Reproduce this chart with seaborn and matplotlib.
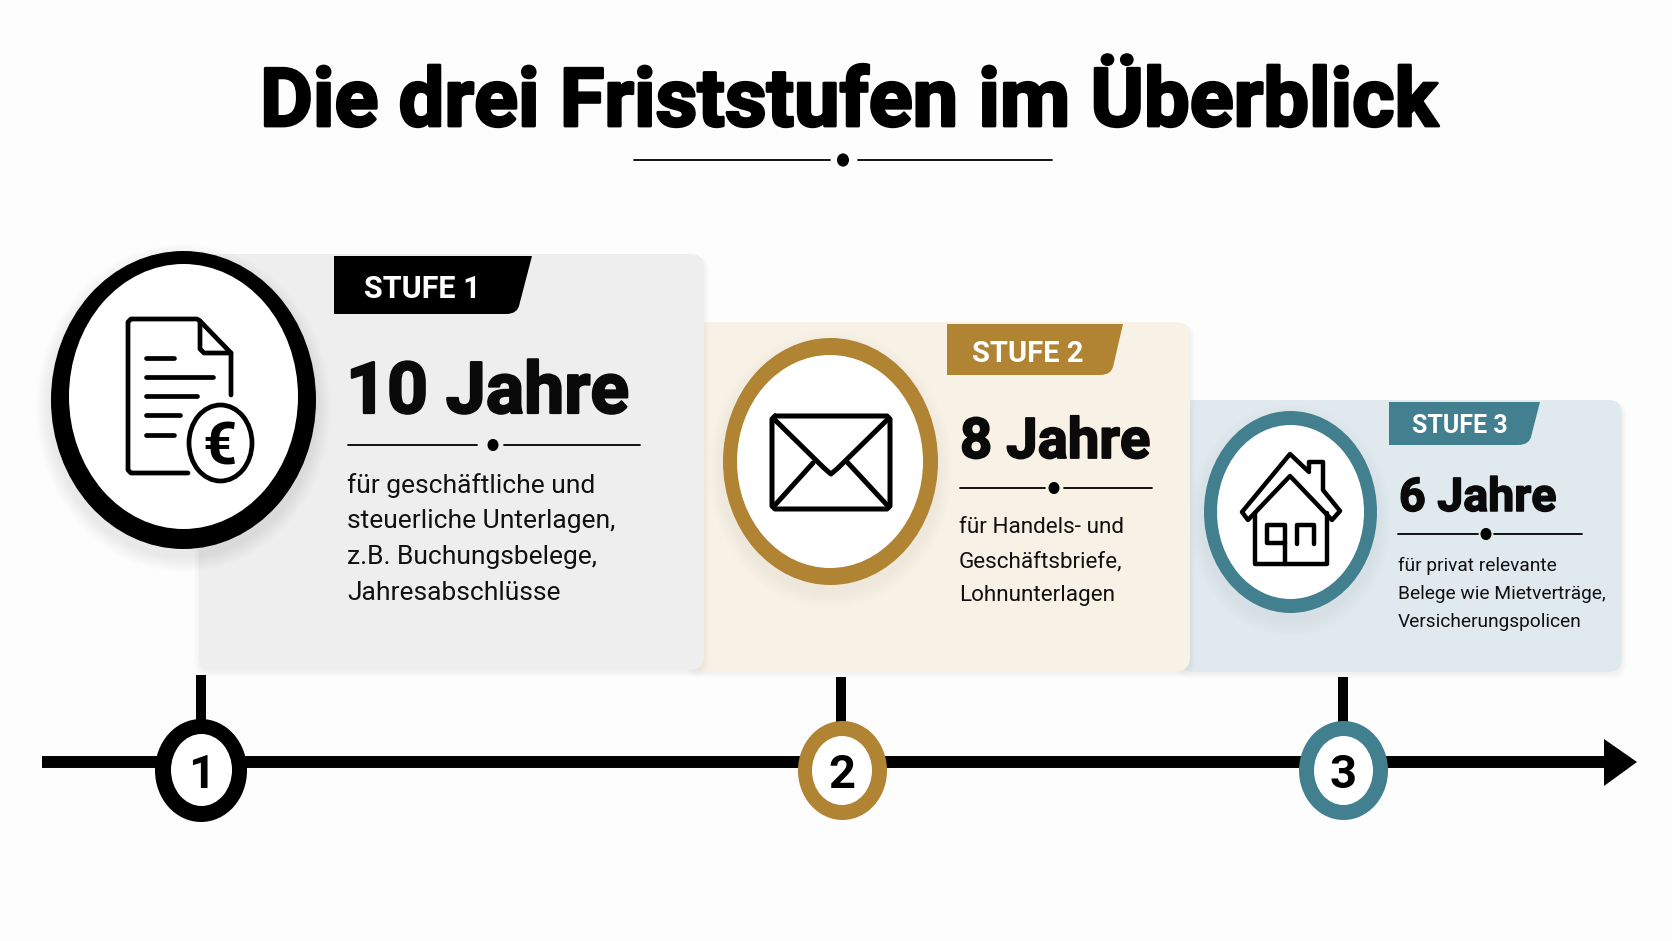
import matplotlib
matplotlib.use('Agg')
import matplotlib.pyplot as plt
import matplotlib.patheffects as pe
import pandas as pd
import seaborn as sns
from matplotlib.patches import Ellipse, FancyBboxPatch, Polygon, PathPatch
from matplotlib.path import Path

# Data
title = 'Die drei Friststufen im Überblick'
stufen = ['STUFE 1', 'STUFE 2', 'STUFE 3']
jahre = ['10 Jahre', '8 Jahre', '6 Jahre']
nummern = ['1', '2', '3']
texte = [
    ['für geschäftliche und', 'steuerliche Unterlagen,', 'z.B. Buchungsbelege,', 'Jahresabschlüsse'],
    ['für Handels- und', 'Geschäftsbriefe,', 'Lohnunterlagen'],
    ['für privat relevante', 'Belege wie Mietverträge,', 'Versicherungspolicen'],
]

# Colours
akzent = ['#000000', '#B08433', '#43808F']
flaeche = ['#EEEEEE', '#F8F1E5', '#E0EAEE']
BG = '#FDFDFD'

# Layout, all in pixels of the reference
cards = [(199, 254, 505, 416), (690, 322, 500, 349), (1180, 400, 442, 272)]
rings = [(183.5, 400, 265, 298, 183.5, 396.5, 229, 265),
         (830.5, 461.5, 215, 247, 830, 461.5, 186, 213),
         (1290.5, 512, 173, 202, 1290.5, 512, 147, 174)]
badges = [(334, 256, 532, 518, 314), (947, 324, 1123, 1112, 375), (1389, 402, 1540, 1530, 445)]
badge_text = [(422.5, 298, 22), (1028, 362, 21), (1460, 433, 18)]
big_text = [(346, 413, 51.5, 1.6), (960, 458, 40.5, 1.3), (1399, 511, 33.5, 1.1)]
rules = [(445, 348, 477, 493, 504, 640), (488, 960, 1045, 1054, 1064, 1152), (534, 1398, 1478, 1486, 1494, 1582)]
body = [(347, [493, 528, 564, 600], 19), (959, [533, 567, 601], 16.2), (1398, [571, 599, 627], 13.8)]
stem_x = [200.5, 841, 1342.5]
stem_top = [675, 677, 677]
nodes = [(201, 770.5, 92, 103, 201.5, 770, 61, 72),
         (842.5, 770.5, 89, 99, 842, 770.5, 60, 69),
         (1343.5, 770.5, 89, 99, 1343.5, 770.5, 59, 69)]

sns.set_theme(style='white')
plt.rcParams['font.family'] = ['Roboto', 'DejaVu Sans']

fig, ax = plt.subplots(figsize=(16.72, 9.41), dpi=100)
fig.subplots_adjust(0, 0, 1, 1)
fig.patch.set_facecolor(BG)
ax.set_facecolor(BG)
ax.set_xlim(0, 1672)
ax.set_ylim(941, 0)
ax.axis('off')


def shadow(cx, cy, w, h, strength):
    for i in range(10):
        ax.add_patch(Ellipse((cx, cy + 8), w + 30 - i * 3, h + 30 - i * 3, fc='black', ec='none',
                             alpha=strength, zorder=3))


def ring(vals, col, z=4):
    cx, cy, w, h, icx, icy, iw, ih = vals
    ax.add_patch(Ellipse((cx, cy), w, h, fc=col, ec='none', zorder=z))
    ax.add_patch(Ellipse((icx, icy), iw, ih, fc='white', ec='none', zorder=z + 0.1))


def stroke(xs, ys, lw, z=6, col='black'):
    ax.plot(xs, ys, color=col, lw=lw, solid_capstyle='round', solid_joinstyle='round', zorder=z)


def divider(y, x0, x1, xd, x2, x3, rad=5.5):
    ax.plot([x0, x1], [y, y], color='black', lw=1.3, zorder=6)
    ax.plot([x2, x3], [y, y], color='black', lw=1.3, zorder=6)
    ax.add_patch(Ellipse((xd, y), rad * 2, rad * 2.2, fc='black', ec='none', zorder=6))


# Title
ax.text(849, 126, title, fontsize=58.5, fontweight='bold', ha='center', va='baseline', color='black',
        path_effects=[pe.withStroke(linewidth=2.0, foreground='black')])
divider(160, 634, 830, 843, 858, 1052, 6)

# Cards, last one first so that each overlaps the next
for i in [2, 1, 0]:
    x, y, w, h = cards[i]
    for k in range(6):
        ax.add_patch(FancyBboxPatch((x - k, y + 2), w + 2 * k, h + k, boxstyle='round,pad=0,rounding_size=14',
                                    fc='black', ec='none', alpha=0.006, zorder=0.5 + (2 - i)))
    ax.add_patch(FancyBboxPatch((x, y), w, h, boxstyle='round,pad=0,rounding_size=14',
                                fc=flaeche[i], ec='none', zorder=1 + (2 - i)))

for i in range(3):
    # Badge with slanted, rounded right end
    x0, y0, x1, x2, y1 = badges[i]
    verts = [(x0, y0), (x1, y0), (x2 + 1.5, y1 - 10), (x2, y1), (x2 - 12, y1), (x0, y1), (x0, y0)]
    codes = [Path.MOVETO, Path.LINETO, Path.LINETO, Path.CURVE3, Path.CURVE3, Path.LINETO, Path.CLOSEPOLY]
    ax.add_patch(PathPatch(Path(verts, codes), fc=akzent[i], ec='none', zorder=4))
    bx, by, bs = badge_text[i]
    ax.text(bx, by, stufen[i], fontsize=bs, fontweight='bold', color='white', ha='center', va='baseline', zorder=5)

    jx, jy, js, je = big_text[i]
    ax.text(jx, jy, jahre[i], fontsize=js, fontweight='bold', color='#0A0A0A', ha='left', va='baseline', zorder=5,
            path_effects=[pe.withStroke(linewidth=je, foreground='#0A0A0A')])

    divider(*rules[i])

    tx, tys, ts = body[i]
    for line, ty in zip(texte[i], tys):
        ax.text(tx, ty, line, fontsize=ts, color='#111111', ha='left', va='baseline', zorder=5)

    # Icon rings
    shadow(rings[i][0], rings[i][1], rings[i][2], rings[i][3], 0.007 if i == 0 else 0.002)
    ring(rings[i], akzent[i])

# Document icon
lw_doc = 3.4
stroke([188, 131, 128, 128, 131, 197, 200, 231, 231], [473, 473, 470, 322, 319, 319, 321, 353, 395], lw_doc)
stroke([200, 200, 204, 231], [321, 349, 353, 353], lw_doc)
for y_l, x_l in zip([358, 377, 396, 415, 435], [174, 213, 197, 180, 174]):
    stroke([146, x_l], [y_l, y_l], lw_doc)
ax.add_patch(Ellipse((220.5, 443), 63, 76, fc='white', ec='black', lw=lw_doc, zorder=6))
ax.text(220, 464, '€', fontsize=43, fontweight='bold', ha='center', va='baseline', color='black', zorder=7)

# Envelope icon
stroke([775, 887, 890, 890, 887, 775, 772, 772, 775], [416, 416, 419, 506, 509, 509, 506, 419, 416], 3.6)
stroke([775, 824, 831, 838, 887], [420, 468, 474, 468, 420], 3.6)
stroke([775, 813], [505, 463], 3.6)
stroke([887, 848], [505, 463], 3.6)

# House icon
stroke([1309, 1309, 1323, 1323, 1340, 1332, 1290, 1248, 1242, 1290, 1309],
       [469, 462, 462, 490, 511, 520, 476, 520, 512, 454, 472], 3.2)
stroke([1255, 1255, 1327, 1327], [513, 564, 564, 513], 3.2)
stroke([1285, 1285, 1267, 1267, 1285], [564, 525, 525, 543, 543], 3.2)
stroke([1297, 1297, 1314, 1314], [544, 525, 525, 544], 3.2)

# Timeline
axis_df = pd.DataFrame({'x': [41.6, 1605], 'y': [762, 762]})
sns.lineplot(data=axis_df, x='x', y='y', color='black', lw=8.6, ax=ax, zorder=7,
             solid_capstyle='butt', estimator=None)
ax.add_patch(Polygon([(1604, 739), (1637, 762), (1604, 786)], fc='black', ec='none', zorder=7))

for i in range(3):
    stem = pd.DataFrame({'x': [stem_x[i], stem_x[i]], 'y': [stem_top[i], 730]})
    sns.lineplot(data=stem, x='x', y='y', color='black', lw=7.2, ax=ax, zorder=6, sort=False,
                 estimator=None, solid_capstyle='butt')
    ring(nodes[i], akzent[i], z=8)
    ax.text(nodes[i][4], 788, nummern[i], fontsize=34, fontweight='bold', color='black', ha='center',
            va='baseline', zorder=9)

ax.set_xlim(0, 1672)
ax.set_ylim(941, 0)
ax.axis('off')
fig.savefig('out.png', dpi=100, facecolor=fig.get_facecolor())
